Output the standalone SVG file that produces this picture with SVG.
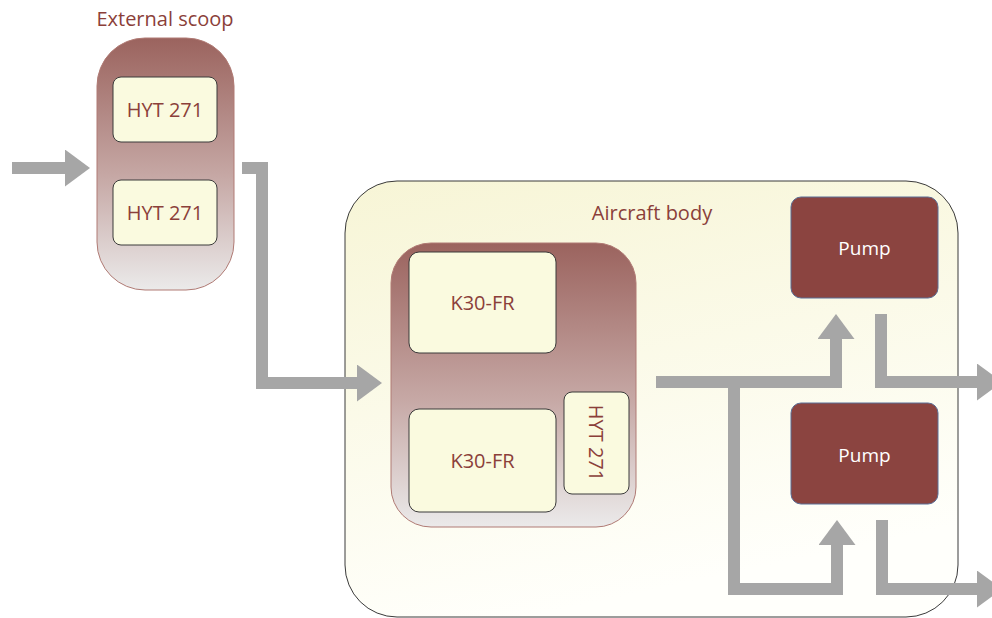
<svg xmlns="http://www.w3.org/2000/svg" width="992" height="618" viewBox="0 0 992 618">
<defs>
<linearGradient id="brown" x1="0" y1="0" x2="0" y2="1">
<stop offset="0" stop-color="#9b635e"/>
<stop offset="0.55" stop-color="#c6a8a5"/>
<stop offset="1" stop-color="#ebeaea"/>
</linearGradient>
<linearGradient id="body" x1="0" y1="0" x2="0.3" y2="1">
<stop offset="0" stop-color="#f7f5d6"/>
<stop offset="1" stop-color="#fffffb"/>
</linearGradient>
<marker id="ah" viewBox="0 0 25 37" markerWidth="25" markerHeight="37" markerUnits="userSpaceOnUse" refX="0" refY="18.5" orient="auto">
<path d="M0,0 L25,18.5 L0,37 z" fill="#a6a6a6"/>
</marker>
</defs>
<style>
.lbl{font-family:"Open Sans","DejaVu Sans",sans-serif;font-size:20px;fill:#8b3f3a;text-anchor:middle;dominant-baseline:central}
.wlbl{font-family:"Open Sans","DejaVu Sans",sans-serif;font-size:19px;fill:#ffffff;text-anchor:middle;dominant-baseline:central}
.cont{fill:url(#brown);stroke:#b07a74;stroke-width:1}
.box{fill:#fafadf;stroke:#3a3a3a;stroke-width:1}
.pump{fill:#8b4440;stroke:#5b6e95;stroke-width:1}
.conn{fill:none;stroke:#a6a6a6;stroke-width:12;stroke-linejoin:miter;marker-end:url(#ah)}
</style>
<g id="aircraft-body">
<rect x="345" y="181" width="613" height="436" rx="52" fill="url(#body)" stroke="#3a3a3a" stroke-width="1"/>
<text class="lbl" x="652" y="212">Aircraft body</text>
</g>
<g id="external-scoop">
<text class="lbl" x="165" y="18">External scoop</text>
<rect class="cont" x="97" y="38" width="137" height="252" rx="48"/>
</g>
<g id="hyt271-a">
<rect class="box" x="113" y="77" width="104" height="65" rx="8"/>
<text class="lbl" x="165" y="109.5">HYT 271</text>
</g>
<g id="hyt271-b">
<rect class="box" x="113" y="180" width="104" height="65" rx="8"/>
<text class="lbl" x="165" y="212.5">HYT 271</text>
</g>
<g id="inner-container">
<rect class="cont" x="391" y="243" width="245" height="284" rx="40"/>
</g>
<g id="k30-fr-a">
<rect class="box" x="409" y="252" width="147" height="101" rx="10"/>
<text class="lbl" x="482.5" y="302.5">K30-FR</text>
</g>
<g id="k30-fr-b">
<rect class="box" x="409" y="409" width="147" height="103" rx="10"/>
<text class="lbl" x="482.5" y="460.5">K30-FR</text>
</g>
<g id="hyt271-c">
<rect class="box" x="564" y="392" width="65" height="102" rx="8"/>
<text class="lbl" x="596.5" y="443" transform="rotate(90 596.5 443)">HYT 271</text>
</g>
<g id="pump-a">
<rect class="pump" x="791" y="197" width="147" height="101" rx="10"/>
<text class="wlbl" x="864.5" y="247.5">Pump</text>
</g>
<g id="pump-b">
<rect class="pump" x="791" y="403" width="147" height="101" rx="10"/>
<text class="wlbl" x="864.5" y="454.5">Pump</text>
</g>
<g id="connectors">
<polyline class="conn" points="12,168 65,168"/>
<polyline class="conn" points="242,168 262,168 262,383 357,383"/>
<polyline class="conn" points="656,382 836,382 836,339"/>
<polyline class="conn" points="734,382 734,589 837,589 837,545"/>
<polyline class="conn" points="881,314 881,382 977,382"/>
<polyline class="conn" points="882,520 882,589 977,589"/>
</g>
</svg>
